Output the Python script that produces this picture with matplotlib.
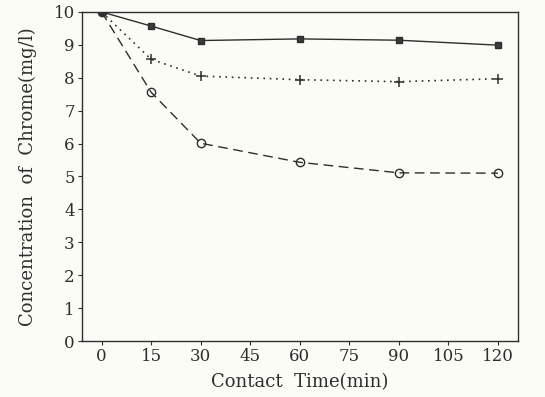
import matplotlib as mpl
import matplotlib.pyplot as plt

#######
# Data

time_min = [0, 15, 30, 60, 90, 120]
conc_square = [10.0, 9.57, 9.13, 9.18, 9.14, 8.99]
conc_plus = [10.0, 8.56, 8.05, 7.94, 7.88, 7.97]
conc_circle = [10.0, 7.56, 6.01, 5.43, 5.11, 5.10]

xticks = [0, 15, 30, 45, 60, 75, 90, 105, 120]
yticks = list(range(0, 11))

#######
# Plot

mpl.rcParams['font.family'] = ['DejaVu Serif']
mpl.rcParams['mathtext.default'] = 'rm'
mpl.rcParams['axes.linewidth'] = 1.0

fig = plt.figure(figsize=(5.45, 3.97), dpi=100, facecolor='#fcfcf7')
ax = fig.add_axes([0.150, 0.141, 0.800, 0.829])
ax.set_facecolor('#fcfcf7')

ink = '#2e2e2e'
ax.plot(time_min, conc_square, color=ink, lw=1.0, marker='s', ms=5,
        mfc='#3a3a3a', mec=ink)
ax.plot(time_min, conc_plus, color=ink, lw=1.2, ls=(0, (1, 2.8)), marker='+',
        ms=7.5, mew=1.1)
ax.plot(time_min, conc_circle, color=ink, lw=1.0, ls=(0, (7, 4)), marker='o',
        ms=6, mfc='none', mec=ink, mew=1.0)

ax.set_xlim(-6, 126)
ax.set_ylim(0, 10)
ax.set_xticks(xticks)
ax.set_yticks(yticks)
ax.tick_params(direction='out', length=3, width=0.8, colors=ink,
               labelsize=12, pad=2)
for s in ax.spines.values():
    s.set_color(ink)

ax.set_xlabel('Contact  Time(min)', fontsize=13, color=ink, labelpad=6)
ax.set_ylabel('Concentration  of  Chrome(mg/l)', fontsize=13, color=ink,
              labelpad=12)

plt.savefig('out.png', dpi=100, facecolor=fig.get_facecolor())
